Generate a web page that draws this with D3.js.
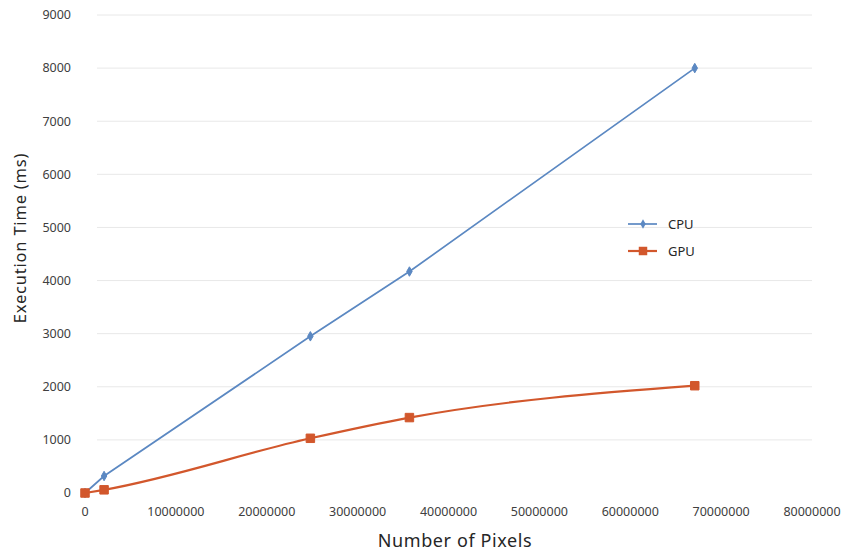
<!DOCTYPE html>
<html>
<head>
<meta charset="utf-8">
<script src="https://cdn.jsdelivr.net/npm/d3@7"></script>
<style>
  body { margin: 0; background: #fff; }
  svg { display: block; font-family: "Noto Sans", "Open Sans", sans-serif; }
  .tick-label { font-size: 12.5px; fill: #404040; }
  .axis-label { fill: #262626; }
  .legend-text { font-size: 13px; fill: #262626; }
</style>
</head>
<body>
<div id="chart"></div>
<script>
// data
const pixels  = [0, 2100000, 24800000, 35700000, 67100000];
const cpuTime = [0, 320, 2950, 4170, 8000];
const gpuTime = [0, 60, 1030, 1420, 2020];
const xTicks  = [0, 10000000, 20000000, 30000000, 40000000, 50000000, 60000000, 70000000, 80000000];
const yTicks  = [0, 1000, 2000, 3000, 4000, 5000, 6000, 7000, 8000, 9000];

const fullW = 856, fullH = 551;

const svg = d3.select("#chart").append("svg")
  .attr("width", fullW).attr("height", fullH);

const x = d3.scaleLinear().domain([0, 80000000]).range([85, 812]);
const y = d3.scaleLinear().domain([0, 9000]).range([493, 15]);

// gridlines
svg.append("g").selectAll("line")
  .data(yTicks.filter(d => d > 0))
  .join("line")
  .attr("x1", 97).attr("x2", 812)
  .attr("y1", d => y(d)).attr("y2", d => y(d))
  .attr("stroke", "#e8e8e8").attr("stroke-width", 1);

// y tick labels
svg.append("g").selectAll("text")
  .data(yTicks)
  .join("text")
  .attr("class", "tick-label")
  .attr("x", 71)
  .attr("y", d => y(d))
  .attr("dy", "0.35em")
  .attr("text-anchor", "end")
  .text(d => d);

// x tick labels
svg.append("g").selectAll("text")
  .data(xTicks)
  .join("text")
  .attr("class", "tick-label")
  .attr("x", d => x(d))
  .attr("y", 516)
  .attr("text-anchor", "middle")
  .text(d => d);

// axis titles
svg.append("text")
  .attr("class", "axis-label")
  .attr("text-anchor", "middle")
  .attr("font-size", 18)
  .attr("letter-spacing", 0.6)
  .attr("x", 455).attr("y", 547)
  .text("Number of Pixels");

svg.append("text")
  .attr("class", "axis-label")
  .attr("text-anchor", "middle")
  .attr("font-size", 16.5)
  .attr("letter-spacing", 0.8)
  .attr("transform", `translate(26,238) rotate(-90)`)
  .text("Execution Time (ms)");

const series = [
  { name: "CPU", values: cpuTime, colour: "#5b88c2", shape: d3.symbolDiamond, size: 26, width: 1.7, curve: d3.curveLinear },
  { name: "GPU", values: gpuTime, colour: "#d2572c", shape: d3.symbolSquare, size: 72, width: 2.2, curve: d3.curveMonotoneX }
];

series.forEach(s => {
  const line = d3.line()
    .x((d, i) => x(pixels[i]))
    .y(d => y(d))
    .curve(s.curve);

  svg.append("path")
    .datum(s.values)
    .attr("fill", "none")
    .attr("stroke", s.colour)
    .attr("stroke-width", s.width)
    .attr("d", line);

  svg.append("g").selectAll("path")
    .data(s.values)
    .join("path")
    .attr("transform", (d, i) => `translate(${x(pixels[i])},${y(d)})`)
    .attr("d", d3.symbol().type(s.shape).size(s.size))
    .attr("fill", s.colour)
    .attr("stroke", s.colour)
    .attr("stroke-linejoin", "round");
});

// legend
const legend = svg.append("g").attr("transform", "translate(628,224)");
series.forEach((s, i) => {
  const row = legend.append("g").attr("transform", `translate(0,${i * 27})`);
  row.append("line")
    .attr("x1", 0).attr("x2", 29)
    .attr("stroke", s.colour).attr("stroke-width", s.width);
  row.append("path")
    .attr("transform", "translate(15,0)")
    .attr("d", d3.symbol().type(s.shape).size(s.size))
    .attr("fill", s.colour);
  row.append("text")
    .attr("class", "legend-text")
    .attr("x", 40).attr("y", 0).attr("dy", "0.35em")
    .text(s.name);
});
</script>
</body>
</html>
